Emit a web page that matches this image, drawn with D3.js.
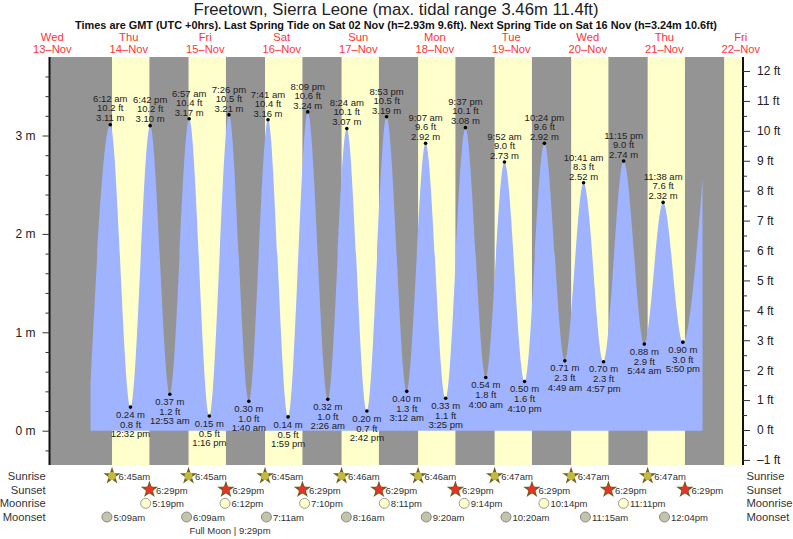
<!DOCTYPE html>
<html>
<head>
<meta charset="utf-8">
<script src="https://cdnjs.cloudflare.com/ajax/libs/d3/7.8.5/d3.min.js"></script>
<style>
  html, body { margin: 0; padding: 0; background: #fff; }
  svg { display: block; }
  text { font-family: "Liberation Sans", Arial, sans-serif; }
  .axis .domain { stroke: #111; stroke-width: 2px; }
  .axis .tick line { stroke: #333; }
  .axis .tick text { font-size: 12px; fill: #222; }
  .tide-label { font-size: 9.5px; fill: #222; text-anchor: middle; }
  .row-label { font-size: 11.2px; fill: #333; }
  .time-label { font-size: 9.5px; fill: #333; }
</style>
</head>
<body>
<svg id="chart" width="793" height="539"></svg>
<script>
const titleText = 'Freetown, Sierra Leone (max. tidal range 3.46m 11.4ft)';
const subtitleText = 'Times are GMT (UTC +0hrs). Last Spring Tide on Sat 02 Nov (h=2.93m 9.6ft). Next Spring Tide on Sat 16 Nov (h=3.24m 10.6ft)';

const dayNames = ['Wed', 'Thu', 'Fri', 'Sat', 'Sun', 'Mon', 'Tue', 'Wed', 'Thu', 'Fri'];
const dayNumbers = [13, 14, 15, 16, 17, 18, 19, 20, 21, 22];

// tide turning points, in time order
const tideDays = [14, 14, 14, 15, 15, 15, 15, 16, 16, 16, 16, 17, 17, 17, 17, 18, 18, 18, 18, 19, 19, 19, 19, 20, 20, 20, 20, 21, 21, 21];
const tideTimes = ['6:12 am', '12:32 pm', '6:42 pm', '12:53 am', '6:57 am', '1:16 pm', '7:26 pm', '1:40 am', '7:41 am', '1:59 pm', '8:09 pm', '2:26 am', '8:24 am', '2:42 pm', '8:53 pm', '3:12 am', '9:07 am', '3:25 pm', '9:37 pm', '4:00 am', '9:52 am', '4:10 pm', '10:24 pm', '4:49 am', '10:41 am', '4:57 pm', '11:15 pm', '5:44 am', '11:38 am', '5:50 pm'];
const tideMetres = [3.11, 0.24, 3.10, 0.37, 3.17, 0.15, 3.21, 0.30, 3.16, 0.14, 3.24, 0.32, 3.07, 0.20, 3.19, 0.40, 2.92, 0.33, 3.08, 0.54, 2.73, 0.50, 2.92, 0.71, 2.52, 0.70, 2.74, 0.88, 2.32, 0.90];
const tideFeet = [10.2, 0.8, 10.2, 1.2, 10.4, 0.5, 10.5, 1.0, 10.4, 0.5, 10.6, 1.0, 10.1, 0.7, 10.5, 1.3, 9.6, 1.1, 10.1, 1.8, 9.0, 1.6, 9.6, 2.3, 8.3, 2.3, 9.0, 2.9, 7.6, 3.0];
// the curve is cut off at midnight at both ends
const tideStartMetres = 0.49;
const tideEndMetres = 2.55;

const sunDays = [14, 15, 16, 17, 18, 19, 20, 21];
const sunriseTimes = ['6:45am', '6:45am', '6:45am', '6:46am', '6:46am', '6:47am', '6:47am', '6:47am'];
const sunsetTimes = ['6:29pm', '6:29pm', '6:29pm', '6:29pm', '6:29pm', '6:29pm', '6:29pm', '6:29pm'];
const lastSunrise = '6:47am';

const moonriseDays = [14, 15, 16, 17, 18, 19, 20];
const moonriseTimes = ['5:19pm', '6:12pm', '7:10pm', '8:11pm', '9:14pm', '10:14pm', '11:11pm'];
const moonsetDays = [14, 15, 16, 17, 18, 19, 20, 21];
const moonsetTimes = ['5:09am', '6:09am', '7:11am', '8:16am', '9:20am', '10:20am', '11:15am', '12:04pm'];

const metreTicks = [0, 1, 2, 3];
const metreMinorTicks = [-0.2, 0.2, 0.4, 0.6, 0.8, 1.2, 1.4, 1.6, 1.8, 2.2, 2.4, 2.6, 2.8, 3.2, 3.4, 3.6];
const feetTicks = [-1, 0, 1, 2, 3, 4, 5, 6, 7, 8, 9, 10, 11, 12];
const feetMinorTicks = [-0.5, 0.5, 1.5, 2.5, 3.5, 4.5, 5.5, 6.5, 7.5, 8.5, 9.5, 10.5, 11.5];

function at(day, time) {
  const m = time.match(/(\d+):(\d+)\s*(am|pm)/);
  const h = (+m[1] % 12) + (m[3] === 'pm' ? 12 : 0);
  return new Date(Date.UTC(2019, 10, day, h, +m[2]));
}

const svg = d3.select('#chart');
const plot = { left: 49.5, right: 743, top: 57, bottom: 465 };

const x = d3.scaleTime()
  .domain([new Date(Date.UTC(2019, 10, 13, 11, 8)), new Date(Date.UTC(2019, 10, 22, 12, 42))])
  .range([plot.left, plot.right]);
const y = d3.scaleLinear().domain([0, 3]).range([430.7, 135.5]);
const yFeet = d3.scaleLinear().domain([0, 12]).range([430, 71]);

svg.append('text').attr('x', 396).attr('y', 14.5).attr('text-anchor', 'middle')
  .style('font-size', '16.7px').attr('fill', '#222').text(titleText);
svg.append('text').attr('x', 396).attr('y', 28.5).attr('text-anchor', 'middle')
  .style('font-size', '10.9px').style('font-weight', 'bold').attr('fill', '#111').text(subtitleText);

// day headers sit over noon of each day
const header = svg.append('g').selectAll('text').data(dayNames).join('text')
  .attr('text-anchor', 'middle').attr('fill', '#f33').style('font-size', '11.2px')
  .attr('transform', (d, i) => `translate(${x(new Date(Date.UTC(2019, 10, dayNumbers[i], 12)))},0)`);
header.append('tspan').attr('x', 0).attr('y', 41).text((d) => d);
header.append('tspan').attr('x', 0).attr('y', 53).text((d, i) => dayNumbers[i] + '\u2013Nov');

// night background and daylight strips
svg.append('rect').attr('x', plot.left).attr('y', plot.top)
  .attr('width', plot.right - plot.left).attr('height', plot.bottom - plot.top).attr('fill', '#949494');
svg.append('g').selectAll('rect').data(sunDays).join('rect')
  .attr('x', (d, i) => x(at(d, sunriseTimes[i])))
  .attr('width', (d, i) => x(at(d, sunsetTimes[i])) - x(at(d, sunriseTimes[i])))
  .attr('y', plot.top).attr('height', plot.bottom - plot.top).attr('fill', '#ffffcc');
svg.append('rect').attr('x', x(at(22, lastSunrise))).attr('width', plot.right - x(at(22, lastSunrise)))
  .attr('y', plot.top).attr('height', plot.bottom - plot.top).attr('fill', '#ffffcc');

// tide curve
const tidePoints = tideTimes.map((t, i) => ({ date: at(tideDays[i], t), value: tideMetres[i], feet: tideFeet[i], time: t }));
const curvePoints = [{ date: new Date(Date.UTC(2019, 10, 14)), value: tideStartMetres }]
  .concat(tidePoints, [{ date: new Date(Date.UTC(2019, 10, 22)), value: tideEndMetres }]);
const area = d3.area().x((d) => x(d.date)).y0(y(0)).y1((d) => y(d.value)).curve(d3.curveMonotoneX);
svg.append('path').datum(curvePoints).attr('d', area).attr('fill', '#9fb3ff');

// turning point dots and labels: highs read upward, lows downward
const isHigh = (d) => d.value > 1.5;
const turns = svg.append('g').selectAll('g').data(tidePoints).join('g')
  .attr('transform', (d) => `translate(${x(d.date)},${y(d.value)})`);
turns.append('circle').attr('r', 1.8).attr('fill', '#000');
turns.append('text').attr('class', 'tide-label').attr('y', (d) => (isHigh(d) ? -22.2 : 30)).text((d) => d.time);
turns.append('text').attr('class', 'tide-label').attr('y', (d) => (isHigh(d) ? -13.2 : 20.6)).text((d) => d.feet.toFixed(1) + ' ft');
turns.append('text').attr('class', 'tide-label').attr('y', (d) => (isHigh(d) ? -3.2 : 10.6)).text((d) => d.value.toFixed(2) + ' m');

// axes
const axisLeft = svg.append('g').attr('class', 'axis').attr('transform', `translate(${plot.left},0)`)
  .call(d3.axisLeft(y).tickValues(metreTicks).tickSize(7).tickPadding(7).tickSizeOuter(0).tickFormat((d) => d + ' m'));
axisLeft.select('.domain').attr('d', `M0,${plot.top}V${plot.bottom}`);
svg.append('g').attr('class', 'axis').attr('transform', `translate(${plot.left},0)`)
  .call(d3.axisLeft(y).tickValues(metreMinorTicks).tickSize(4).tickFormat(''))
  .select('.domain').remove();
const axisRight = svg.append('g').attr('class', 'axis').attr('transform', `translate(${plot.right},0)`)
  .call(d3.axisRight(yFeet).tickValues(feetTicks).tickSize(7).tickPadding(7).tickSizeOuter(0)
    .tickFormat((d) => (d < 0 ? '\u2013' + -d : d) + ' ft'));
axisRight.select('.domain').attr('d', `M0,${plot.top}V${plot.bottom}`);
svg.append('g').attr('class', 'axis').attr('transform', `translate(${plot.right},0)`)
  .call(d3.axisRight(yFeet).tickValues(feetMinorTicks).tickSize(4).tickFormat(''))
  .select('.domain').remove();

// rows under the plot
const rowNames = ['Sunrise', 'Sunset', 'Moonrise', 'Moonset'];
const rowY = d3.scalePoint().domain(rowNames).range([476, 517]);
svg.append('g').selectAll('text').data(rowNames).join('text').attr('class', 'row-label')
  .attr('x', 45.7).attr('y', (d) => rowY(d) + 4).attr('text-anchor', 'end').text((d) => d);
svg.append('g').selectAll('text').data(rowNames).join('text').attr('class', 'row-label')
  .attr('x', 746.5).attr('y', (d) => rowY(d) + 4).text((d) => d);

const star = d3.symbol().type(d3.symbolStar).size(95);
function markerRow(name, days, times, draw) {
  const g = svg.append('g').selectAll('g').data(times).join('g')
    .attr('transform', (d, i) => `translate(${x(at(days[i], d))},${rowY(name)})`);
  draw(g);
  g.append('text').attr('class', 'time-label').attr('x', 6.5).attr('y', 4).text((d) => d);
}
function sunMarker(g, colour) {
  g.append('path').attr('d', star).attr('fill', '#6e5f1e');
  g.append('circle').attr('r', 3.9).attr('fill', colour);
}
markerRow('Sunrise', sunDays, sunriseTimes, (g) => sunMarker(g, '#c2b93e'));
markerRow('Sunset', sunDays, sunsetTimes, (g) => sunMarker(g, '#e03527'));
markerRow('Moonrise', moonriseDays, moonriseTimes, (g) => g.append('circle').attr('r', 5)
  .attr('fill', '#ffffcc').attr('stroke', '#999').attr('stroke-width', 1));
markerRow('Moonset', moonsetDays, moonsetTimes, (g) => g.append('circle').attr('r', 5)
  .attr('fill', '#c4c4ac').attr('stroke', '#888').attr('stroke-width', 1));

svg.append('text').attr('class', 'time-label').attr('x', 230).attr('y', 534)
  .attr('text-anchor', 'middle').text('Full Moon | 9:29pm');
</script>
</body>
</html>
